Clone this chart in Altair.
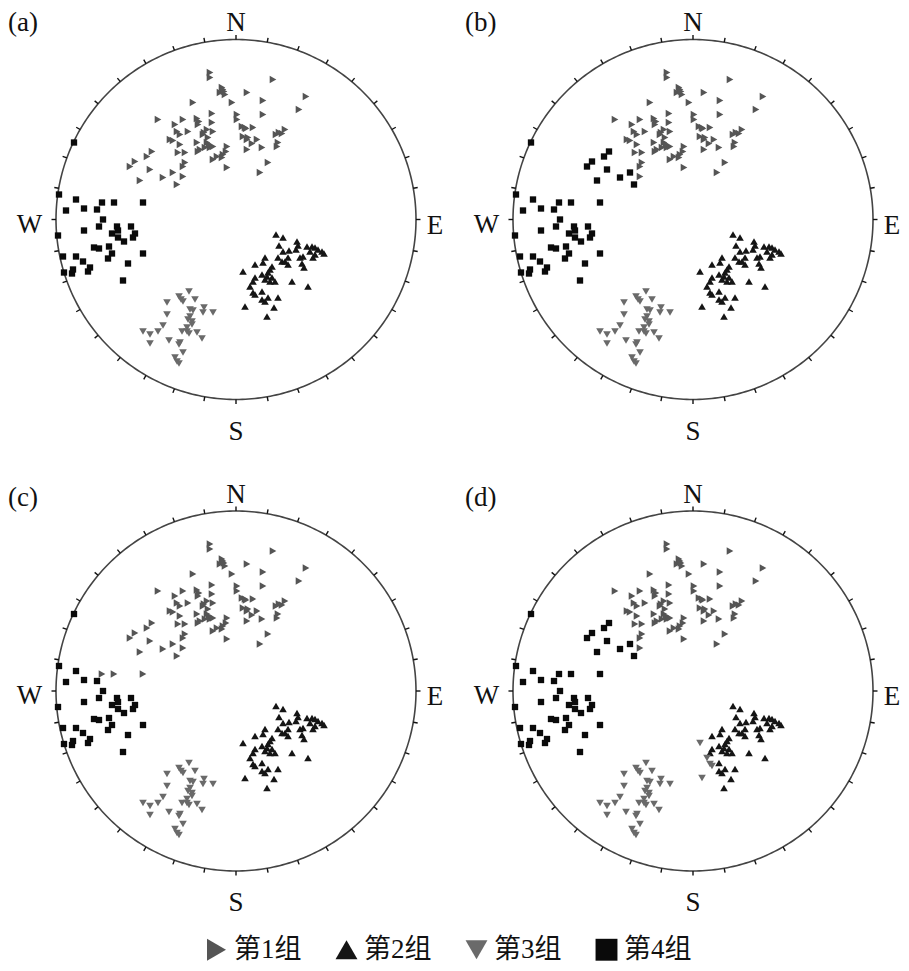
import altair as alt
import numpy as np
import pandas as pd

# ---------------- data (net units, primitive circle radius = 180) ----------------
NET_RADIUS = 180
GROUPS = ["第1组", "第2组", "第3组", "第4组"]
PANELS = ["(a)", "(b)", "(c)", "(d)"]

# group 1 (always group 1)
G1_POINTS = [(-26, 147), (-26, 142), (37, 140), (-14, 132), (-16, 127), (-11, 125), (-13, 130),
             (11, 127), (27, 119), (70, 123), (-4, 117), (-43, 117), (63, 110), (-78, 100),
             (-24, 106), (27, 105), (1, 105), (1, 100), (-53, 100), (-61, 95), (-39, 101),
             (-37, 98), (-38, 95), (-24, 97), (6, 93), (9, 92), (17, 92), (-59, 88), (-56, 85),
             (-48, 88), (-29, 90), (-33, 85), (-23, 88), (49, 90), (46, 86), (40, 85), (-66, 80),
             (-63, 79), (-56, 75), (-39, 77), (-28, 82), (-29, 77), (7, 83), (11, 80), (21, 80),
             (16, 76), (42, 77), (41, 73), (-31, 72), (-26, 72), (-23, 73), (-36, 70), (-9, 73),
             (-10, 68), (-13, 65), (11, 70), (26, 72), (-58, 67), (-51, 67), (-38, 68), (-23, 60),
             (-19, 63), (-14, 62), (-51, 57), (-53, 53), (32, 57), (-9, 52), (-53, 43), (24, 47),
             (-12, 128), (-32, 87), (-27, 75), (10, 91), (43, 87), (12, 82)]
# west part of group 1 cluster: group 1 in (a),(c); group 4 in (b),(d)
G1_WEST_POINTS = [(-84, 68), (-89, 63), (-101, 58), (-106, 53), (-86, 50), (-96, 39), (-73, 42),
                  (-63, 47), (-59, 35)]
G1_WEST_GROUP = ["第1组", "第4组", "第1组", "第4组"]

# group 4 (always group 4)
G4_POINTS = [(-177, 25), (-160, 20), (-170, 9), (-152, 11), (-139, 10), (-133, 0), (-137, -7),
             (-152, -11), (-119, -7), (-118, -11), (-105, -7), (-124, -14), (-118, -18),
             (-112, -22), (-101, -14), (-103, -18), (-178, -16), (-142, -28), (-137, -29),
             (-127, -27), (-124, -34), (-128, -39), (-93, -34), (-173, -37), (-160, -37),
             (-153, -42), (-146, -48), (-148, -52), (-108, -44), (-172, -53), (-164, -54),
             (-163, -50), (-113, -61), (-162, 77)]
# group 4 in (a),(b),(d); group 1 in (c)
G4_NORTH_POINTS = [(-134, 17), (-122, 17), (-93, 17)]
G4_NORTH_GROUP = ["第4组", "第4组", "第1组", "第4组"]

# group 2 (always group 2)
G2_POINTS = [(40, -15), (47, -18), (43, -26), (61, -22), (62, -26), (71, -27), (76, -27), (79, -28),
             (82, -30), (86, -32), (88, -34), (74, -32), (79, -35), (77, -38), (47, -32), (53, -31),
             (60, -30), (64, -38), (67, -37), (42, -38), (46, -42), (49, -42), (52, -45), (52, -38),
             (66, -44), (68, -48), (29, -38), (27, -43), (19, -45), (36, -47), (34, -50), (32, -53),
             (31, -57), (36, -58), (19, -58), (17, -62), (26, -55), (29, -60), (34, -62), (39, -62),
             (56, -62), (72, -67), (26, -72), (26, -80), (29, -82), (32, -78), (42, -78), (38, -88),
             (31, -97)]
# group 2 in (a),(b),(c); group 3 in (d)
G2_WEST_POINTS = [(7, -52), (14, -67), (17, -73), (19, -75), (9, -87)]
G2_WEST_GROUP = ["第2组", "第2组", "第2组", "第3组"]

# group 3 (always group 3)
G3_POINTS = [(-47, -72), (-57, -77), (-55, -80), (-53, -82), (-41, -80), (-69, -83), (-46, -90),
             (-43, -91), (-32, -88), (-33, -93), (-23, -93), (-69, -95), (-46, -97), (-48, -100),
             (-44, -102), (-73, -106), (-44, -105), (-49, -108), (-54, -112), (-49, -112),
             (-47, -114), (-39, -113), (-93, -112), (-86, -115), (-78, -112), (-86, -124),
             (-34, -119), (-67, -121), (-56, -123), (-57, -125), (-53, -133), (-61, -138),
             (-59, -142), (-57, -144)]

DIRECTIONS = ["N", "E", "S", "W"]

# ---------------- styling / layout ----------------
SERIF = "Liberation Serif, Times New Roman, Noto Sans CJK SC"
COLORS = ["#555555", "#151515", "#6a6a6a", "#0a0a0a"]
SHAPES = ["triangle-right", "triangle-up", "triangle-down", "square"]
PANEL_W = [457, 436]
ROW_H = [475, 420]
X_DOMS = [[-228, 229], [-228, 208]]
Y_DOMS = [[-264.5, 210.5], [-213, 207]]
DIR_X = [0, 199, 0, -206.5]
DIR_Y = [188.5, -14, -220, -13]


def to_df(points, group):
    return pd.DataFrame({"x": [p[0] for p in points], "y": [p[1] for p in points], "group": group})


def panel_points(i):
    parts = [
        to_df(G1_POINTS, "第1组"),
        to_df(G1_WEST_POINTS, G1_WEST_GROUP[i]),
        to_df(G4_POINTS, "第4组"),
        to_df(G4_NORTH_POINTS, G4_NORTH_GROUP[i]),
        to_df(G2_POINTS, "第2组"),
        to_df(G2_WEST_POINTS, G2_WEST_GROUP[i]),
        to_df(G3_POINTS, "第3组"),
    ]
    return pd.concat(parts, ignore_index=True)


ang = np.deg2rad(np.arange(0, 361, 1))
circle_df = pd.DataFrame({"x": NET_RADIUS * np.sin(ang), "y": NET_RADIUS * np.cos(ang),
                          "i": np.arange(len(ang))})
tang = np.deg2rad(np.arange(0, 360, 10))
tick_df = pd.DataFrame({"x": NET_RADIUS * np.sin(tang), "y": NET_RADIUS * np.cos(tang),
                        "x2": (NET_RADIUS + 4.5) * np.sin(tang), "y2": (NET_RADIUS + 4.5) * np.cos(tang)})
dir_df = pd.DataFrame({"t": DIRECTIONS, "x": DIR_X, "y": DIR_Y})

LEG = alt.Legend(orient="none", legendX=195, legendY=927, direction="horizontal", columns=4,
                 title=None, symbolSize=480, symbolStrokeWidth=0, labelFontSize=27,
                 labelFont=SERIF, labelColor="#111", labelOffset=4, columnPadding=31,
                 padding=0, labelLimit=0)
color_enc = alt.Color("group:N", scale=alt.Scale(domain=GROUPS, range=COLORS), legend=LEG)
shape_enc = alt.Shape("group:N", scale=alt.Scale(domain=GROUPS, range=SHAPES), legend=LEG)


def panel(i, row, col):
    xs = alt.Scale(domain=X_DOMS[col], nice=False, zero=False)
    ys = alt.Scale(domain=Y_DOMS[row], nice=False, zero=False)
    X = alt.X("x:Q", scale=xs, axis=None)
    Y = alt.Y("y:Q", scale=ys, axis=None)
    circ = alt.Chart(circle_df).mark_line(color="#444", strokeWidth=1.6).encode(
        x=X, y=Y, order="i:Q")
    ticks = alt.Chart(tick_df).mark_rule(color="#111", strokeWidth=1.4).encode(
        x=X, y=Y, x2="x2:Q", y2="y2:Q")
    df = panel_points(i)
    tri = alt.Chart(df[df.group.isin(GROUPS[:3])]).mark_point(
        filled=True, opacity=1, size=58, strokeWidth=0).encode(x=X, y=Y, color=color_enc, shape=shape_enc)
    sq = alt.Chart(df[df.group == "第4组"]).mark_point(
        filled=True, opacity=1, size=40, strokeWidth=0).encode(x=X, y=Y, color=color_enc, shape=shape_enc)
    dirs = alt.Chart(dir_df).mark_text(font=SERIF, fontSize=27, color="#111",
                                       baseline="alphabetic", align="center").encode(
        x=X, y=Y, text="t:N")
    tag = alt.Chart(pd.DataFrame({"t": [PANELS[i]]})).mark_text(
        font=SERIF, fontSize=27, color="#111", baseline="alphabetic", align="left").encode(
        text="t:N", x=alt.value(0), y=alt.value(22))
    return alt.layer(circ, ticks, tri, sq, dirs, tag).properties(
        width=PANEL_W[col], height=ROW_H[row])


chart = alt.concat(panel(0, 0, 0), panel(1, 0, 1), panel(2, 1, 0), panel(3, 1, 1),
                   columns=2, spacing=0, bounds="flush").properties(
    padding=0, background="white").configure_view(stroke=None)

chart.save("out.html", embed_options={"renderer": "svg", "actions": False})
